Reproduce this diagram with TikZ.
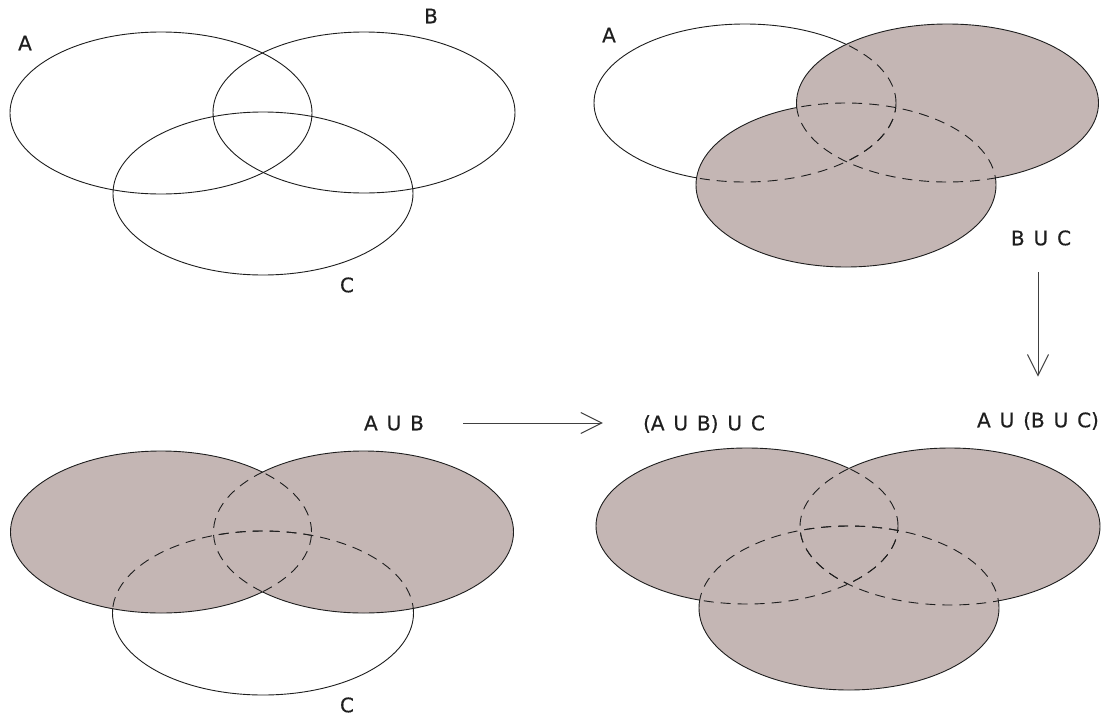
\documentclass[tikz,border=0pt]{standalone}
\usepackage{fontspec}
\setmainfont{DejaVu Sans}[WordSpace=1.4, FakeBold=0.4]
\usetikzlibrary{arrows.meta}
\definecolor{shadefill}{HTML}{C4B6B4}
\definecolor{ink}{HTML}{1E1E1E}
\tikzset{
  lbl/.style={font=\fontsize{20}{24}\selectfont, inner sep=0pt, text height=14.5pt, text depth=0pt, text=ink},
  outline/.style={draw=ink, line width=0.9pt},
  hidden/.style={draw=ink, line width=0.9pt, dash pattern=on 10pt off 7pt},
  arr/.style={draw=ink!85, line width=1pt, -{Straight Barb[length=21pt,width=21pt]}},
}
\newcommand\hid[2]{\begin{scope}\clip #2;\draw[hidden] #1;\end{scope}}
\newcommand\outsideof[1]{\clip (-10,10) -- (1115,10) -- (1115,-725) -- (-10,-725) -- cycle #1;}
\begin{document}
\begin{tikzpicture}[x=1pt,y=1pt]
\fill[white] (0,0) rectangle (1105,-715);
\useasboundingbox (0,0) rectangle (1105,-715);

% ---------- top left: A, B, C ----------
\def\EA{(161,-113) ellipse (151pt and 81pt)}
\def\EB{(364,-112.5) ellipse (151pt and 80.5pt)}
\def\EC{(263,-193.5) ellipse (150pt and 81.5pt)}
\draw[outline] \EA;
\draw[outline] \EB;
\draw[outline] \EC;
\node[lbl] (tlA) at (25,-43) {A};
\node[lbl] (tlB) at (431,-16) {B};
\node[lbl] (tlC) at (347,-285) {C};

% ---------- top right: B U C ----------
\def\EA{(745,-103) ellipse (151pt and 79pt)}
\def\EB{(947.5,-103) ellipse (151pt and 79pt)}
\def\EC{(846,-185) ellipse (150pt and 82pt)}
\fill[shadefill] \EB;
\fill[shadefill] \EC;
\hid{\EA}{\EB}
\hid{\EA}{\EC}
\hid{\EB}{\EC}
\hid{\EC}{\EB}
\begin{scope}[even odd rule]\outsideof{\EB}\outsideof{\EC}\draw[outline] \EA;\end{scope}
\begin{scope}[even odd rule]\outsideof{\EC}\draw[outline] \EB;\end{scope}
\begin{scope}[even odd rule]\outsideof{\EB}\draw[outline] \EC;\end{scope}
\node[lbl] (trA) at (609,-35) {A};
\node[lbl] (buc) at (1041,-238) {B U C};

% ---------- bottom left: A U B ----------
\def\EA{(161,-532) ellipse (150.5pt and 81pt)}
\def\EB{(363.5,-532) ellipse (150pt and 81pt)}
\def\EC{(263,-613) ellipse (150.5pt and 82pt)}
\fill[shadefill] \EA;
\fill[shadefill] \EB;
\hid{\EA}{\EB}
\hid{\EB}{\EA}
\hid{\EC}{\EA}
\hid{\EC}{\EB}
\begin{scope}[even odd rule]\outsideof{\EB}\draw[outline] \EA;\end{scope}
\begin{scope}[even odd rule]\outsideof{\EA}\draw[outline] \EB;\end{scope}
\begin{scope}[even odd rule]\outsideof{\EA}\outsideof{\EB}\draw[outline] \EC;\end{scope}
\node[lbl] (aub) at (394,-423) {A U B};
\node[lbl] (blC) at (347,-705) {C};

% ---------- bottom right: all ----------
\def\EA{(747,-526) ellipse (151pt and 78pt)}
\def\EB{(950,-526.5) ellipse (150pt and 78.5pt)}
\def\EC{(849,-608) ellipse (150pt and 82pt)}
\fill[shadefill] \EA;
\fill[shadefill] \EB;
\fill[shadefill] \EC;
\hid{\EA}{\EB}
\hid{\EA}{\EC}
\hid{\EB}{\EA}
\hid{\EB}{\EC}
\hid{\EC}{\EA}
\hid{\EC}{\EB}
\begin{scope}[even odd rule]\outsideof{\EB}\outsideof{\EC}\draw[outline] \EA;\end{scope}
\begin{scope}[even odd rule]\outsideof{\EA}\outsideof{\EC}\draw[outline] \EB;\end{scope}
\begin{scope}[even odd rule]\outsideof{\EA}\outsideof{\EB}\draw[outline] \EC;\end{scope}
\node[lbl] (aubc) at (704,-423) {(A U B) U C};
\node[lbl] (abuc) at (1038,-420) {A U (B U C)};

% ---------- arrows ----------
\draw[arr, shorten <=39pt, shorten >=40pt] (aub.east) -- (aubc.west);
\draw[arr, shorten <=27pt, shorten >=36pt] (buc.south -| abuc.north) -- (abuc.north);
\end{tikzpicture}
\end{document}
